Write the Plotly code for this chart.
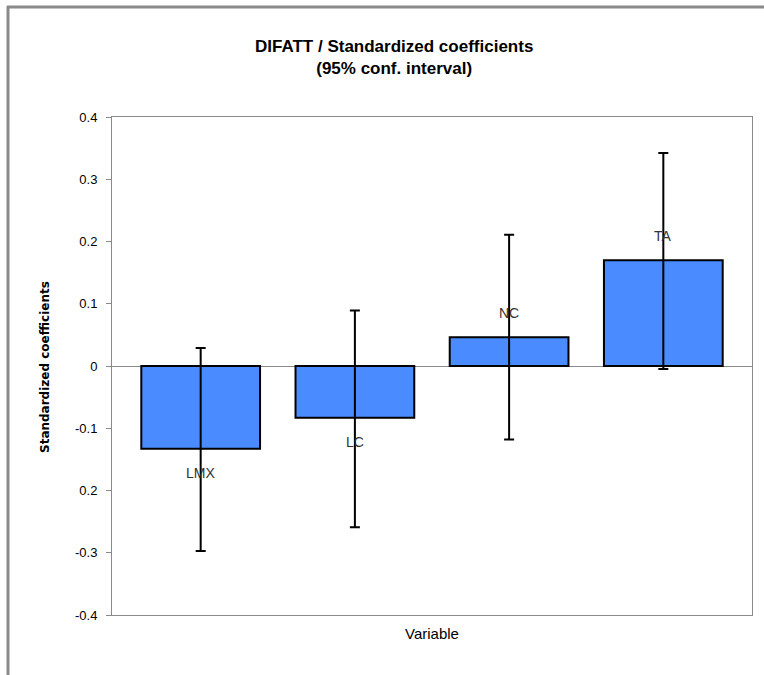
import plotly.graph_objects as go

# Standardized coefficients for DIFATT with 95% confidence bounds
variables = ["LMX", "LC", "NC", "TA"]
coefficients = [-0.133, -0.083, 0.046, 0.170]
ci_lower = [-0.297, -0.259, -0.118, -0.005]
ci_upper = [0.029, 0.089, 0.211, 0.342]

tick_values = [0.4, 0.3, 0.2, 0.1, 0, -0.1, -0.2, -0.3, -0.4]
tick_labels = ["0.4", "0.3", "0.2", "0.1", "0", "-0.1", "0.2", "-0.3", "-0.4"]

err_plus = [u - c for u, c in zip(ci_upper, coefficients)]
err_minus = [c - l for c, l in zip(coefficients, ci_lower)]

W, H = 764, 675
L, R, T, B = 112, 12, 117, 60
plot_w = W - L - R
plot_h = H - T - B

def px_x(px):
    return (px - L) / plot_w

def px_y(py):
    return (H - B - py) / plot_h

narrow = "Liberation Sans Narrow, Arial Narrow, sans-serif"

fig = go.Figure()
fig.add_trace(go.Bar(
    x=list(range(len(variables))),
    y=coefficients,
    width=0.77,
    marker=dict(color="#4A8CFF", line=dict(color="black", width=2)),
    error_y=dict(type="data", symmetric=False, array=err_plus, arrayminus=err_minus,
                 color="black", thickness=2, width=5),
    showlegend=False,
    hoverinfo="skip",
))

# Category labels just beyond each bar end
for i, (name, val) in enumerate(zip(variables, coefficients)):
    fig.add_annotation(x=i, y=val, xref="x", yref="y", text=name, showarrow=False,
                       yshift=24 if val >= 0 else -24,
                       font=dict(family=narrow, size=14, color="#333333"))

# Chart title
fig.add_annotation(x=px_x(394), y=px_y(57), xref="paper", yref="paper",
                   text="<b>DIFATT / Standardized coefficients</b><br><b>(95% conf. interval)</b>",
                   showarrow=False, xanchor="center", yanchor="middle",
                   font=dict(family=narrow, size=17, color="black"))

# Axis titles
fig.add_annotation(x=px_x(432), y=px_y(633), xref="paper", yref="paper",
                   text="Variable", showarrow=False, xanchor="center", yanchor="middle",
                   font=dict(family=narrow, size=15, color="black"))
fig.add_annotation(x=px_x(45), y=px_y(367), xref="paper", yref="paper",
                   text="<b>Standardized coefficients</b>", showarrow=False, textangle=-90,
                   xanchor="center", yanchor="middle",
                   font=dict(family="DejaVu Sans, sans-serif", size=12, color="black"))

# Outer chart frame (top and left edges)
frame = dict(color="#8a8a8a", width=3)
fig.add_shape(type="line", xref="paper", yref="paper",
              x0=px_x(7), x1=px_x(764), y0=px_y(7), y1=px_y(7), line=frame)
fig.add_shape(type="line", xref="paper", yref="paper",
              x0=px_x(8), x1=px_x(8), y0=px_y(6), y1=px_y(675), line=frame)

fig.update_layout(
    width=W, height=H,
    margin=dict(l=L, r=R, t=T, b=B, pad=0),
    paper_bgcolor="white", plot_bgcolor="white",
    bargap=0.23,
    xaxis=dict(range=[-0.575, 3.575], showticklabels=False, ticks="",
               showgrid=False, zeroline=False, showline=True, mirror=True,
               linecolor="#8a8a8a", linewidth=1),
    yaxis=dict(range=[-0.4, 0.4], tickvals=tick_values, ticktext=tick_labels,
               ticks="outside", ticklen=5, tickcolor="#8a8a8a", ticklabelstandoff=6,
               tickfont=dict(family=narrow, size=13, color="black"),
               showgrid=False, zeroline=True, zerolinecolor="#8a8a8a", zerolinewidth=1,
               showline=True, mirror=True, linecolor="#8a8a8a", linewidth=1),
)

fig.write_html("out.html")
